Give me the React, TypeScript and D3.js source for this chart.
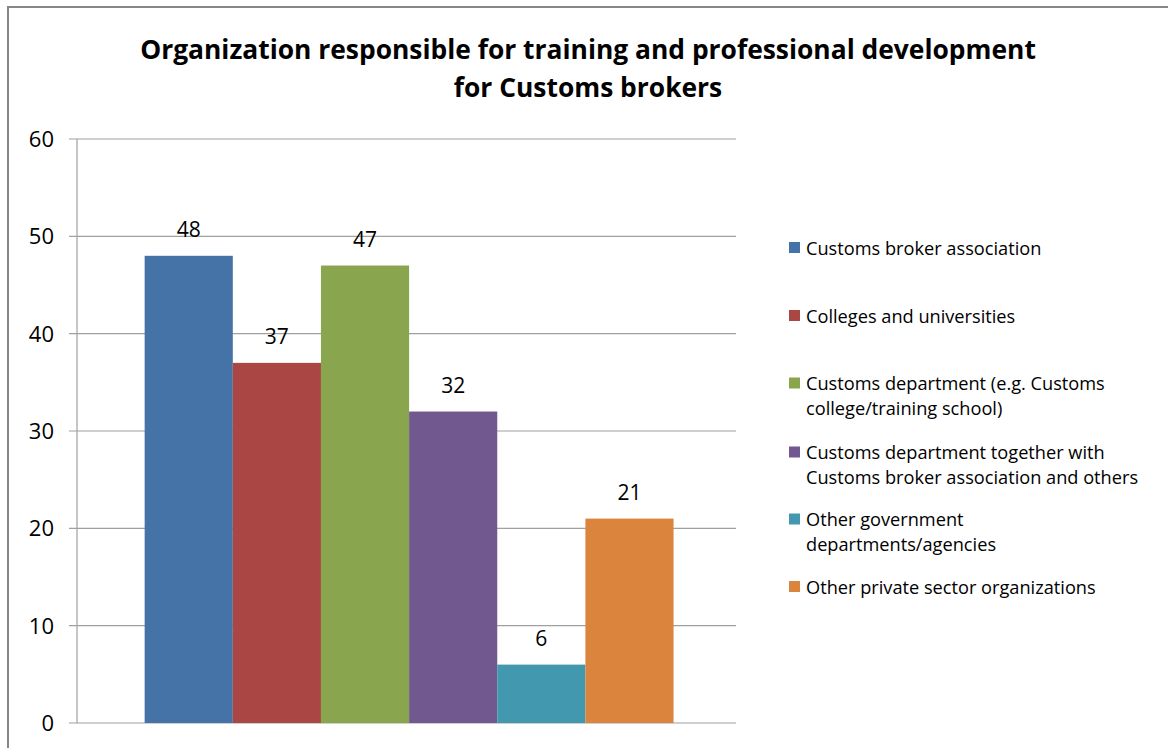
import React from "react";
import * as d3 from "d3";

const categories = [
  "Customs broker association",
  "Colleges and universities",
  "Customs department (e.g. Customs college/training school)",
  "Customs department together with Customs broker association and others",
  "Other government departments/agencies",
  "Other private sector organizations",
];
const legendLines = [
  ["Customs broker association"],
  ["Colleges and universities"],
  ["Customs department (e.g. Customs", "college/training school)"],
  ["Customs department together with", "Customs broker association and others"],
  ["Other government", "departments/agencies"],
  ["Other private sector organizations"],
];
const values = [48, 37, 47, 32, 6, 21];
const colors = ["#4572A7", "#AA4643", "#89A54E", "#71588F", "#4198AF", "#DB843D"];
const yTicks = [0, 10, 20, 30, 40, 50, 60];
const titleLines = [
  "Organization responsible for training and professional development",
  "for Customs brokers",
];

const W = 1168;
const H = 748;
const FONT = "'Open Sans', 'Liberation Sans', sans-serif";

export default function App() {
  const plot = { left: 77, right: 736, top: 139, bottom: 723 };
  const y = d3.scaleLinear().domain([0, 60]).range([plot.bottom, plot.top]);
  const group = d3
    .scaleBand()
    .domain(["all"])
    .range([plot.left, plot.right])
    .paddingInner(0)
    .paddingOuter(0.123)
    .align(0.52);
  const x = d3
    .scaleBand()
    .domain(categories)
    .range([group("all")!, group("all")! + group.bandwidth()])
    .padding(0);

  const legendY = [248, 316, 396, 465, 532, 587];

  return (
    <svg
      width={W}
      height={H}
      style={{ position: "absolute", left: 0, top: 0, background: "#fff" }}
      fontFamily={FONT}
    >
      <rect x={0} y={0} width={W} height={H} fill="#fff" />
      <rect x={8} y={7} width={W + 20} height={H + 20} fill="none" stroke="#868686" strokeWidth={2} />
      {titleLines.map((t, i) => (
        <text
          key={i}
          x={588}
          y={59 + i * 38}
          textAnchor="middle"
          fontSize={26.4}
          fontWeight="bold"
          fill="#000"
        >
          {t}
        </text>
      ))}
      {yTicks.map((t) => (
        <g key={t}>
          <line
            x1={plot.left - 8}
            x2={plot.right}
            y1={y(t)}
            y2={y(t)}
            stroke="#A0A0A0"
            strokeWidth={1.2}
          />
          <text x={54} y={y(t) + 8} textAnchor="end" fontSize={22} fill="#000">
            {t}
          </text>
        </g>
      ))}
      <line x1={plot.left} x2={plot.left} y1={plot.top} y2={plot.bottom} stroke="#A0A0A0" strokeWidth={1.2} />
      {categories.map((c, i) => (
        <g key={c}>
          <rect
            x={x(c)!}
            y={y(values[i])}
            width={x.bandwidth()}
            height={y(0) - y(values[i])}
            fill={colors[i]}
          />
          <text
            x={x(c)! + x.bandwidth() / 2}
            y={y(values[i]) - 19}
            textAnchor="middle"
            fontSize={21}
            fill="#000"
          >
            {values[i]}
          </text>
        </g>
      ))}
      {legendLines.map((lines, i) => {
        const top = legendY[i] - ((lines.length - 1) * 25) / 2;
        return (
          <g key={i}>
            <rect x={789} y={top - 6} width={11} height={11} fill={colors[i]} />
            {lines.map((l, j) => (
              <text key={j} x={806} y={top + j * 25 + 6.5} fontSize={18.2} fill="#000">
                {l}
              </text>
            ))}
          </g>
        );
      })}
    </svg>
  );
}
